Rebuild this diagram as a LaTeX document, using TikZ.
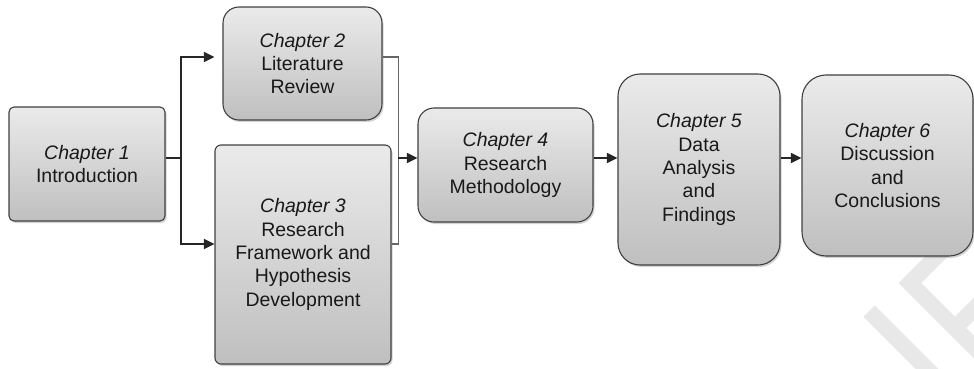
\documentclass[tikz,border=0pt]{standalone}
\usepackage{fontspec}
\setmainfont{Liberation Sans}
\usetikzlibrary{arrows.meta,shadows}

\tikzset{
  chapbox/.style={draw=black!75, line width=1.1pt, top color=gray!16, bottom color=gray!50,
    drop shadow={shadow xshift=1.5pt, shadow yshift=-2pt, opacity=0.35},
    align=center, inner sep=0pt, text=black!90, font=\fontsize{19.5}{23.3}\selectfont},
  link/.style={line width=1.3pt, black!85},
  linkarr/.style={link, -{Triangle[length=10.5pt,width=10pt]}},
  wmark/.style={line width=16pt, black!9}
}

\begin{document}
\begin{tikzpicture}[x=1pt,y=1pt]
\useasboundingbox (0,0) rectangle (974,368);
% faint mark in the lower right corner
\begin{scope}
  \clip (0,0) rectangle (974,368);
  \draw[wmark] (945,120) -- (910,85) -- (990,5);
  \draw[wmark] (955,40) -- (990,75);
  \draw[wmark] (869,57) -- (940,-14);
\end{scope}
% chapters, left to right
\node[chapbox, rounded corners=5pt, minimum width=156pt, minimum height=114pt] (ch1) at (87,204) {\textit{Chapter 1}\\Introduction};
\node[chapbox, rounded corners=16pt, minimum width=159pt, minimum height=113pt] (ch2) at (302.5,304.5) {\textit{Chapter 2}\\Literature\\Review};
\node[chapbox, rounded corners=6pt, minimum width=176pt, minimum height=219pt] (ch3) at (303,113.5) {\textit{Chapter 3}\\Research\\Framework and\\Hypothesis\\Development};
\node[chapbox, rounded corners=16pt, minimum width=175pt, minimum height=114pt] (ch4) at (505.5,203) {\textit{Chapter 4}\\Research\\Methodology};
\node[chapbox, rounded corners=22pt, minimum width=162pt, minimum height=191pt] (ch5) at (699,198.5) {\textit{Chapter 5}\\Data\\Analysis\\and\\Findings};
\node[chapbox, rounded corners=24pt, minimum width=171pt, minimum height=181pt] (ch6) at (887.5,202.5) {\textit{Chapter 6}\\Discussion\\and\\Conclusions};
% connectors
\coordinate (split) at (181,210);
\coordinate (join) at (398,210);
\draw[link] (ch1.east |- split) -- (split);
\draw[linkarr] (split) |- ([xshift=-8pt,yshift=6.5pt]ch2.west);
\draw[linkarr] (split) |- ([yshift=10.5pt]ch3.west);
\draw[line width=1.4pt, black!60] ([yshift=6.5pt]ch2.east) -| ([xshift=7pt,yshift=10.5pt]ch3.east) -- ([yshift=10.5pt]ch3.east);
\draw[linkarr] (join) -- (ch4.west |- join);
\draw[linkarr] (ch4.east |- join) -- (ch5.west |- join);
\draw[linkarr] (ch5.east |- join) -- (ch6.west |- join);
\end{tikzpicture}
\end{document}
